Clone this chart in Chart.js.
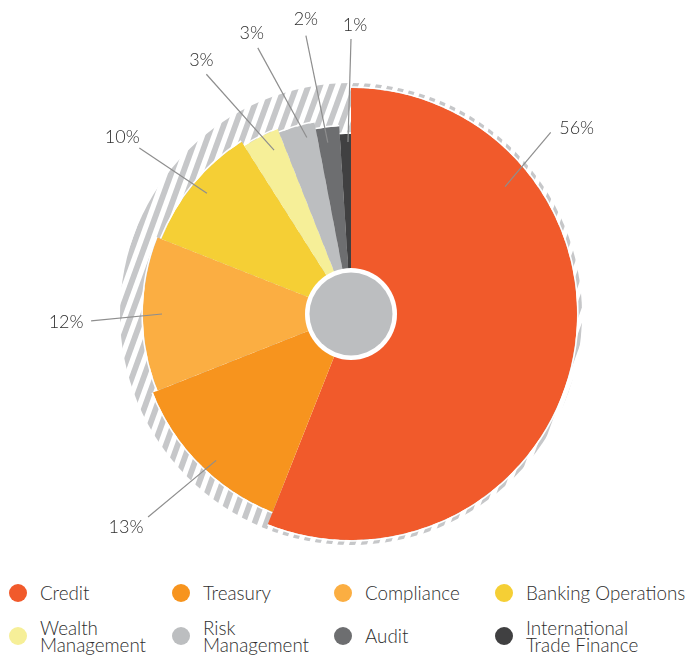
<!DOCTYPE html>
<html>
<head>
<meta charset="utf-8">
<script src="https://cdn.jsdelivr.net/npm/chart.js@4.4.1/dist/chart.umd.min.js"></script>
<style>
  body { margin: 0; background: #fff; width: 689px; height: 655px; overflow: hidden; font-family: Lato, "Open Sans", sans-serif; }
  #chart { position: absolute; left: 0; top: 0; }
  #legend { position: absolute; left: 9px; top: 571px; display: grid;
    grid-template-columns: 163px 162px 161px 190px; grid-auto-rows: 43px; }
  .item { display: flex; align-items: center; }
  .dot { width: 18px; height: 18px; border-radius: 50%; margin-right: 13px; flex: none; }
  .txt { font-size: 18.8px; font-weight: 300; line-height: 17px; color: #2e2e2e; white-space: nowrap; }
</style>
</head>
<body>
<canvas id="chart" width="689" height="570"></canvas>
<div id="legend"></div>
<script>
const categories = ['Credit', 'Treasury', 'Compliance', 'Banking Operations',
  'Wealth Management', 'Risk Management', 'Audit', 'International Trade Finance'];
const legendLines = [['Credit'], ['Treasury'], ['Compliance'], ['Banking Operations'],
  ['Wealth', 'Management'], ['Risk', 'Management'], ['Audit'], ['International', 'Trade Finance']];
const shares = [56, 13, 12, 10, 3, 3, 2, 1];
const sliceColors = ['#f15a2b', '#f7941e', '#fbae42', '#f5cf35', '#f6ef98', '#bcbec0', '#6d6e70', '#404041'];

// each slice has its own outer radius (px)
const sliceRadius = [226, 213, 208, 204, 199, 195, 188, 180];
const hatchRadius = 231;

// leader lines: inner end (fraction of slice sweep, radius), outer end (deg from top, radius)
const leaderInFrac = [0.25, 0.45, 0.5, 0.51, 0.67, 0.70, 0.43, 0.72];
const leaderInR = [200, 199, 189, 188, 181, 182, 173, 172];
const leaderOutAngle = [47.7, 225, 268.5, 308.1, 328.9, 340.7, 350.8, 0];
const leaderOutR = [270, 287, 260, 269, 280, 282, 282, 275];
const labelShift = [[26, -4], [-22, 10], [-25, 1], [-17, -11], [-5, -14], [-6, -15], [0, -16], [4, -14]];

const shapePlugin = {
  id: 'shape',
  afterDatasetUpdate(chart, args) {
    chart.getDatasetMeta(args.index).data.forEach((arc, i) => {
      arc.outerRadius = sliceRadius[i];
    });
  },
  beforeDatasetsDraw(chart) {
    const arc = chart.getDatasetMeta(0).data[0];
    const ctx = chart.ctx;
    ctx.save();
    ctx.beginPath();
    ctx.arc(arc.x, arc.y, hatchRadius, 0, Math.PI * 2);
    ctx.clip();
    ctx.translate(arc.x, arc.y);
    ctx.rotate(20 * Math.PI / 180);
    ctx.fillStyle = '#c6c7c9';
    for (let x = -264; x < 264; x += 11) {
      ctx.fillRect(x, -264, 5.8, 528);
    }
    ctx.restore();
  },
  afterDatasetsDraw(chart) {
    const meta = chart.getDatasetMeta(0);
    const cx = meta.data[0].x, cy = meta.data[0].y;
    const ctx = chart.ctx;
    ctx.save();
    // thin white rim just outside each slice
    ctx.strokeStyle = '#fff';
    ctx.lineWidth = 1.5;
    meta.data.forEach(arc => {
      ctx.beginPath();
      ctx.arc(cx, cy, arc.outerRadius + 0.9, arc.startAngle, arc.endAngle);
      ctx.stroke();
    });
    // centre disc
    ctx.fillStyle = '#fff';
    ctx.beginPath(); ctx.arc(cx, cy, 46, 0, Math.PI * 2); ctx.fill();
    ctx.fillStyle = '#bcbec0';
    ctx.beginPath(); ctx.arc(cx, cy, 41.5, 0, Math.PI * 2); ctx.fill();

    // leader lines + labels
    ctx.strokeStyle = '#8e8e8e';
    ctx.lineWidth = 1.2;
    ctx.fillStyle = '#2e2e2e';
    ctx.font = '300 18px Lato, "Open Sans", sans-serif';
    ctx.textAlign = 'center';
    ctx.textBaseline = 'middle';
    meta.data.forEach((arc, i) => {
      const a = arc.startAngle + leaderInFrac[i] * (arc.endAngle - arc.startAngle);
      const x1 = cx + leaderInR[i] * Math.cos(a), y1 = cy + leaderInR[i] * Math.sin(a);
      const b = leaderOutAngle[i] * Math.PI / 180 - Math.PI / 2;
      const x2 = cx + leaderOutR[i] * Math.cos(b), y2 = cy + leaderOutR[i] * Math.sin(b);
      ctx.beginPath(); ctx.moveTo(x1, y1); ctx.lineTo(x2, y2); ctx.stroke();
      ctx.fillText(shares[i] + '%', x2 + labelShift[i][0], y2 + labelShift[i][1]);
    });
    ctx.restore();
  }
};

new Chart(document.getElementById('chart'), {
  type: 'pie',
  data: {
    labels: categories,
    datasets: [{
      data: shares,
      backgroundColor: sliceColors,
      borderWidth: 0,
    }],
  },
  options: {
    responsive: false,
    animation: false,
    events: [],
    radius: 226,
    layout: { padding: { left: 13, top: 63, right: 0, bottom: 5 } },
    plugins: {
      legend: { display: false },
      tooltip: { enabled: false },
    },
  },
  plugins: [shapePlugin],
});

const legend = document.getElementById('legend');
categories.forEach((c, i) => {
  const item = document.createElement('div');
  item.className = 'item';
  item.innerHTML = '<span class="dot" style="background:' + sliceColors[i] + '"></span>' +
    '<span class="txt">' + legendLines[i].join('<br>') + '</span>';
  legend.appendChild(item);
});
</script>
</body>
</html>
